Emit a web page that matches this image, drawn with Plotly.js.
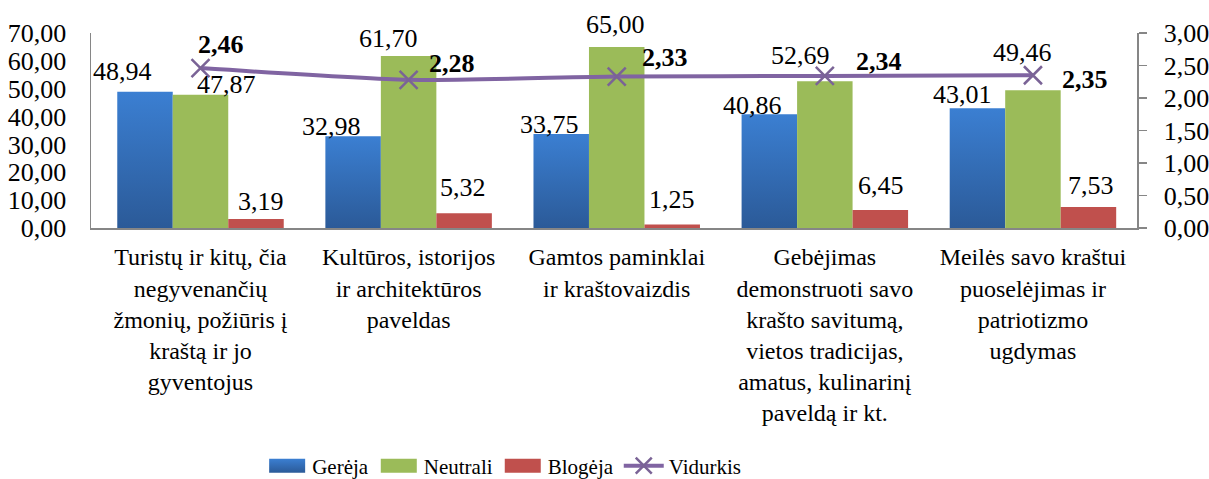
<!DOCTYPE html>
<html>
<head>
<meta charset="utf-8">
<script src="https://cdn.plot.ly/plotly-3.0.1.min.js"></script>
<style>
  body { margin: 0; background: #fff; }
  #chart { width: 1209px; height: 479px; }
</style>
</head>
<body>
<svg width="0" height="0" style="position:absolute">
  <defs>
    <linearGradient id="blueGrad" x1="0" y1="0" x2="0" y2="1">
      <stop offset="0" stop-color="#3B7FD2"/>
      <stop offset="1" stop-color="#2B5A98"/>
    </linearGradient>
  </defs>
</svg>
<div id="chart"></div>
<script>
var categories = [
  'Turistų ir kitų, čia<br>negyvenančių<br>žmonių, požiūris į<br>kraštą ir jo<br>gyventojus',
  'Kultūros, istorijos<br>ir architektūros<br>paveldas',
  'Gamtos paminklai<br>ir kraštovaizdis',
  'Gebėjimas<br>demonstruoti savo<br>krašto savitumą,<br>vietos tradicijas,<br>amatus, kulinarinį<br>paveldą ir kt.',
  'Meilės savo kraštui<br>puoselėjimas ir<br>patriotizmo<br>ugdymas'
];
var gereja   = [48.94, 32.98, 33.75, 40.86, 43.01];
var neutrali = [47.87, 61.70, 65.00, 52.69, 49.46];
var blogeja  = [3.19, 5.32, 1.25, 6.45, 7.53];
var vidurkis = [2.46, 2.28, 2.33, 2.34, 2.35];

// label nudges in px (dx from bar centre, dy above the value), as placed in the original
var nudgeGereja   = [[-22, 20], [-21, 10], [-11, 9], [-16, 9], [-14, 14]];
var nudgeNeutrali = [[26, 10], [-20, 18], [-1, 22], [-24, 26], [-10, 38]];
var nudgeBlogeja  = [[4, 18], [-2, 26], [-1, 25], [0, 25], [2, 22]];
var nudgeVidurkis = [[20, 24], [43, 16], [48, 19], [54, 14], [52, -4]];

var fontFam = 'Liberation Serif, Times New Roman, serif';
var fmt = function (v) { return v.toFixed(2).replace('.', ','); };

var trace1 = {
  x: categories, y: gereja, type: 'bar', name: 'Gerėja',
  marker: {color: '#3368B4'}, hoverinfo: 'none'
};
var trace2 = {
  x: categories, y: neutrali, type: 'bar', name: 'Neutrali',
  marker: {color: '#9BBB59'}, hoverinfo: 'none'
};
var trace3 = {
  x: categories, y: blogeja, type: 'bar', name: 'Blogėja',
  marker: {color: '#C0504D'}, hoverinfo: 'none'
};
var trace4 = {
  x: categories, y: vidurkis, type: 'scatter', mode: 'lines+markers', name: 'Vidurkis',
  yaxis: 'y2',
  line: {color: '#8064A2', width: 4, shape: 'spline', smoothing: 0.6},
  marker: {symbol: 'x-thin', size: 18, line: {color: '#7A6396', width: 2.5}},
  hoverinfo: 'none'
};

var barShift = [-56, 0, 56];
var annotations = [];
function addLabels(vals, nudges, shift, yref, bold) {
  for (var i = 0; i < vals.length; i++) {
    annotations.push({
      x: i, y: vals[i], xref: 'x', yref: yref,
      text: bold ? '<b>' + fmt(vals[i]) + '</b>' : fmt(vals[i]),
      showarrow: false, xanchor: 'center', yanchor: 'middle',
      xshift: shift + nudges[i][0], yshift: nudges[i][1],
      font: {family: fontFam, size: 26, color: '#000'}
    });
  }
}
addLabels(gereja, nudgeGereja, barShift[0], 'y', false);
addLabels(neutrali, nudgeNeutrali, barShift[1], 'y', false);
addLabels(blogeja, nudgeBlogeja, barShift[2], 'y', false);
addLabels(vidurkis, nudgeVidurkis, 0, 'y2', true);

var layout = {
  width: 1209, height: 479,
  margin: {l: 91, r: 72, t: 33, b: 251},
  paper_bgcolor: '#fff', plot_bgcolor: '#fff',
  separators: ', ',
  font: {family: fontFam, size: 24, color: '#000'},
  barmode: 'group', bargap: 0.2, bargroupgap: 0,
  showlegend: true,
  legend: {
    orientation: 'h', xref: 'container', yref: 'container',
    x: 0.417, xanchor: 'center', y: 0.027, yanchor: 'middle',
    font: {family: fontFam, size: 21, color: '#000'}, traceorder: 'normal',
    itemwidth: 40
  },
  xaxis: {
    type: 'category', showline: true, linecolor: '#868686', linewidth: 1.5,
    ticks: '', tickfont: {family: fontFam, size: 24}, ticklabelstandoff: 7,
    automargin: false
  },
  yaxis: {
    range: [0, 70], dtick: 10, tickformat: '.2f', showgrid: false, zeroline: false,
    showline: true, linecolor: '#868686', linewidth: 1.5,
    ticks: '', tickfont: {family: fontFam, size: 26}, ticklabelstandoff: 18,
    automargin: false
  },
  yaxis2: {
    range: [0, 3], dtick: 0.5, tickformat: '.2f', overlaying: 'y', side: 'right',
    showgrid: false, zeroline: false, showline: true, linecolor: '#868686', linewidth: 1.5,
    ticks: 'outside', ticklen: 8, tickcolor: '#868686', tickwidth: 1.5,
    tickfont: {family: fontFam, size: 26}, ticklabelstandoff: 12, automargin: false
  },
  annotations: annotations
};

// Excel look: gradient on the blue bars and wide rectangular legend keys
function restyleSvg(gd) {
  var bars = gd.querySelectorAll('.barlayer .trace.bars');
  if (bars.length) {
    bars[0].querySelectorAll('path').forEach(function (p) { p.style.fill = 'url(#blueGrad)'; });
  }
  var items = gd.querySelectorAll('g.legend g.traces');
  items.forEach(function (item, k) {
    if (k > 2) return;
    item.querySelectorAll('g.legendpoints path').forEach(function (p) {
      p.setAttribute('d', 'M18,7H-18V-7H18Z');
      if (k === 0) p.style.fill = 'url(#blueGrad)';
    });
  });
}

Plotly.newPlot('chart', [trace1, trace2, trace3, trace4], layout, {staticPlot: true}).then(function (gd) {
  restyleSvg(gd);
  gd.on('plotly_afterplot', function () { restyleSvg(gd); });
  setTimeout(function () { restyleSvg(gd); }, 50);
  setTimeout(function () { restyleSvg(gd); }, 300);
});
</script>
</body>
</html>
